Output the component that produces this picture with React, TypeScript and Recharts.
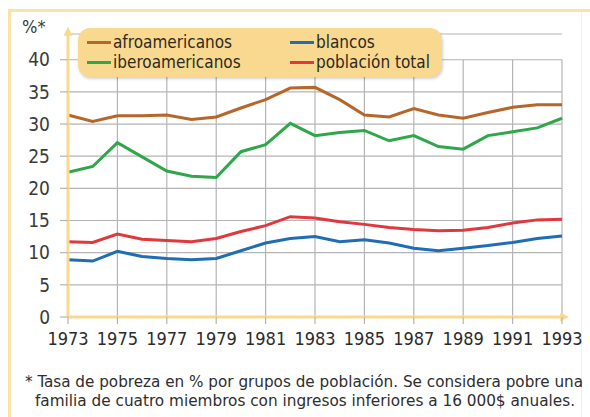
import { CartesianGrid, Line, LineChart, ReferenceLine, XAxis, YAxis } from "recharts";

const years = [
  1973, 1974, 1975, 1976, 1977, 1978, 1979, 1980, 1981, 1982, 1983, 1984,
  1985, 1986, 1987, 1988, 1989, 1990, 1991, 1992, 1993,
];
const afroamericanos = [
  31.4, 30.4, 31.3, 31.3, 31.4, 30.7, 31.1, 32.5, 33.8, 35.6, 35.7, 33.8,
  31.4, 31.1, 32.4, 31.4, 30.9, 31.8, 32.6, 33.0, 33.0,
];
const iberoamericanos = [
  22.5, 23.4, 27.1, 24.9, 22.7, 21.9, 21.7, 25.7, 26.8, 30.1, 28.2, 28.7,
  29.0, 27.4, 28.2, 26.5, 26.1, 28.2, 28.8, 29.4, 30.9,
];
const blancos = [
  8.9, 8.7, 10.2, 9.4, 9.1, 8.9, 9.1, 10.3, 11.5, 12.2, 12.5, 11.7, 12.0,
  11.5, 10.7, 10.3, 10.7, 11.1, 11.6, 12.2, 12.6,
];
const poblacionTotal = [
  11.7, 11.6, 12.9, 12.1, 11.9, 11.7, 12.2, 13.3, 14.2, 15.6, 15.4, 14.8,
  14.4, 13.9, 13.6, 13.4, 13.5, 13.9, 14.6, 15.1, 15.2,
];
const xTicks = [1973, 1975, 1977, 1979, 1981, 1983, 1985, 1987, 1989, 1991, 1993];
const yTicks = [0, 5, 10, 15, 20, 25, 30, 35, 40];
const footnote = [
  "* Tasa de pobreza en % por grupos de población. Se considera pobre una",
  "familia de cuatro miembros con ingresos inferiores a 16 000$ anuales.",
];

const series = [
  { key: "afro", name: "afroamericanos", color: "#b7662a" },
  { key: "ibero", name: "iberoamericanos", color: "#2fa64a" },
  { key: "blancos", name: "blancos", color: "#1f6db3" },
  { key: "total", name: "población total", color: "#e0383c" },
];

const data = years.map((year, i) => ({
  year,
  afro: afroamericanos[i],
  ibero: iberoamericanos[i],
  blancos: blancos[i],
  total: poblacionTotal[i],
}));

const font = '"Liberation Sans Narrow", "DejaVu Sans Condensed", "Open Sans", sans-serif';
const yellow = "#f8d98f";
const grid = "#b4b4b4";

export default function App() {
  return (
    <div
      style={{
        position: "absolute",
        left: 0,
        top: 0,
        width: 590,
        height: 417,
        background: "#fff",
        overflow: "hidden",
        fontFamily: font,
      }}
    >
      {/* frame */}
      <div style={{ position: "absolute", left: 8, top: 9, width: 3, height: 408, background: "#fae3a8" }} />
      <div style={{ position: "absolute", left: 8, top: 9, width: 582, height: 3, background: "#fae3a8" }} />
      <div style={{ position: "absolute", left: 581, top: 12, width: 1, height: 405, background: "#f1f1f1" }} />

      <div style={{ position: "absolute", left: 0, top: 0 }}>
        <LineChart
          width={590}
          height={417}
          data={data}
          margin={{ top: 34, right: 28, left: 8, bottom: 70 }}
        >
          <defs>
            <marker
              id="arrow"
              viewBox="0 0 10 10"
              refX="2"
              refY="5"
              markerWidth="3"
              markerHeight="3"
              orient="auto-start-reverse"
            >
              <path d="M0,0 L10,5 L0,10 z" fill={yellow} />
            </marker>
          </defs>
          <CartesianGrid vertical={false} stroke={grid} strokeWidth={1.2} />
          {xTicks.slice(1).map((t) => (
            <ReferenceLine
              key={t}
              segment={[
                { x: t, y: 0 },
                { x: t, y: 40 },
              ]}
              stroke={grid}
              strokeWidth={1.2}
            />
          ))}
          <XAxis
            dataKey="year"
            type="number"
            domain={[1973, 1993]}
            ticks={xTicks}
            interval={0}
            height={30}
            tickSize={7}
            tickMargin={8}
            tickLine={{ stroke: grid, strokeWidth: 1.2 }}
            axisLine={{ stroke: yellow, strokeWidth: 3, markerEnd: "url(#arrow)" }}
            tick={{ fill: "#2b2b2b", fontSize: 18, fontFamily: font }}
          />
          <YAxis
            type="number"
            domain={[0, 44]}
            ticks={yTicks}
            interval={0}
            width={60}
            tickSize={8}
            tickMargin={10}
            tickLine={{ stroke: grid, strokeWidth: 1.2 }}
            axisLine={{ stroke: yellow, strokeWidth: 3, markerStart: "url(#arrow)" }}
            tick={{ fill: "#3a3a3a", fontSize: 19, fontFamily: font }}
          />
          {series.map((s) => (
            <Line
              key={s.key}
              type="linear"
              dataKey={s.key}
              name={s.name}
              stroke={s.color}
              strokeWidth={3}
              dot={false}
              activeDot={false}
              isAnimationActive={false}
            />
          ))}
        </LineChart>
      </div>

      {/* y unit label */}
      <div style={{ position: "absolute", left: 22, top: 16, fontSize: 18, color: "#3a3a3a" }}>%*</div>

      {/* legend */}
      <div
        style={{
          position: "absolute",
          left: 78,
          top: 28,
          width: 364,
          height: 49,
          background: yellow,
          borderRadius: 12,
          boxShadow: "1px 2px 3px rgba(0,0,0,0.18)",
        }}
      >
        {series.map((s, i) => (
          <div
            key={s.key}
            style={{
              position: "absolute",
              left: i < 2 ? 9 : 212,
              top: i % 2 === 0 ? 4 : 24,
              display: "flex",
              alignItems: "center",
              fontSize: 17,
              color: "#2e2a22",
              lineHeight: "20px",
            }}
          >
            <span style={{ display: "inline-block", width: 24, height: 3, background: s.color, marginRight: 2 }} />
            {s.name}
          </div>
        ))}
      </div>

      {/* footnote */}
      <svg style={{ position: "absolute", left: 0, top: 0 }} width={590} height={417}>
        <text x={25} y={387} fontSize={15.5} fill="#2e2e2e" fontFamily={font} textLength={558} lengthAdjust="spacingAndGlyphs">
          {footnote[0]}
        </text>
        <text x={35} y={406} fontSize={15.5} fill="#2e2e2e" fontFamily={font} textLength={540} lengthAdjust="spacingAndGlyphs">
          {footnote[1]}
        </text>
      </svg>
    </div>
  );
}
